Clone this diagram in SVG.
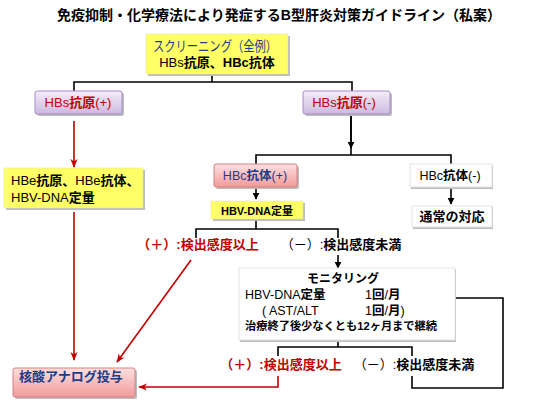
<svg xmlns="http://www.w3.org/2000/svg" width="550" height="413" viewBox="0 0 550 413">
<defs>
<linearGradient id="gPurple" x1="0" y1="0" x2="0" y2="1">
<stop offset="0" stop-color="#F3EDF8"/><stop offset="1" stop-color="#CDB9E0"/>
</linearGradient>
<linearGradient id="gPink" x1="0" y1="0" x2="0" y2="1">
<stop offset="0" stop-color="#FBE0E0"/><stop offset="1" stop-color="#F29A9A"/>
</linearGradient>
<marker id="ab" viewBox="0 0 10 10" refX="9" refY="5" markerWidth="7" markerHeight="7" markerUnits="userSpaceOnUse" orient="auto">
<path d="M0,0 L10,5 L0,10 Z" fill="#000"/>
</marker>
<marker id="ar" viewBox="0 0 10 10" refX="9" refY="5" markerWidth="9" markerHeight="9" markerUnits="userSpaceOnUse" orient="auto">
<path d="M0,1 L10,5 L0,9 L3,5 Z" fill="#C00000"/>
</marker>
</defs>
<style>
text{font-family:"Liberation Sans","Noto Sans CJK JP",sans-serif;}
.t{font-size:14px;font-weight:bold;fill:#000;}
.n{font-size:12px;fill:#000;}
.b{font-weight:bold;}
.red{fill:#C00000;}
.blue{fill:#1F3C88;}
.sh{fill:#BDBDBD;}
.yel{fill:#FFFF66;stroke:#E0E0B0;stroke-width:0.5;}
.pur{fill:url(#gPurple);stroke:#A88CC8;stroke-width:1;}
.pnk{fill:url(#gPink);stroke:#D88080;stroke-width:1;}
.wht{fill:#FFFFFF;stroke:#E4E4E4;stroke-width:1;}
.lk{fill:none;stroke:#000;stroke-width:1.6;}
.lr{fill:none;stroke:#C00000;stroke-width:1.6;}
</style>

<text class="t" x="279" y="20" text-anchor="middle">免疫抑制・化学療法により発症するB型肝炎対策ガイドライン（私案）</text>

<g id="connectors">
<path class="lk" d="M212,74 V82 M74,91 V82 H352 V91"/>
<path class="lk" d="M351,114 V155"/>
<path class="lk" d="M351,114 V148" marker-end="url(#ab)"/>
<path class="lk" d="M256,164 V155 H451 V164"/>
<path class="lk" d="M256,187 V199" marker-end="url(#ab)"/>
<path class="lk" d="M451,187 V204" marker-end="url(#ab)"/>
<path class="lk" d="M256,219 V229 M196,238 V229 H338 V238"/>
<path class="lk" d="M338,255 V268" marker-end="url(#ab)"/>
<path class="lk" d="M338,340 V347 M278,356 V347 H412 V356"/>
<path class="lk" d="M412,376 V388 H503 V298 H449" marker-end="url(#ab)"/>
<path class="lr" d="M74,121 V167" marker-end="url(#ar)"/>
<path class="lr" d="M74,212 V360" marker-end="url(#ar)"/>
<path class="lr" d="M191,260 L117,362" marker-end="url(#ar)"/>
<path class="lr" d="M278,376 V387 H139" marker-end="url(#ar)"/>
</g>

<g id="screening">
<rect class="sh" x="148" y="36" width="142" height="40"/>
<rect class="yel" x="146" y="34" width="142" height="40"/>
<text class="n blue" x="215" y="51" text-anchor="middle" style="font-size:14px" textLength="124" lengthAdjust="spacingAndGlyphs">スクリーニング（全例）</text>
<text class="n" x="217" y="67" text-anchor="middle" style="font-size:13px">HBs<tspan class="b">抗原、HBc抗体</tspan></text>
</g>

<g id="hbs-pos">
<rect class="sh" x="37" y="93" width="87" height="23" rx="2"/>
<rect class="pur" x="35" y="91" width="87" height="23" rx="2"/>
<text class="n red" x="78" y="107" text-anchor="middle" style="font-size:13px">HBs<tspan class="b">抗原</tspan>(+)</text>
</g>

<g id="hbs-neg">
<rect class="sh" x="305" y="93" width="87" height="23" rx="2"/>
<rect class="pur" x="303" y="91" width="87" height="23" rx="2"/>
<text class="n red" x="344" y="107" text-anchor="middle" style="font-size:13px">HBs<tspan class="b">抗原</tspan>(-)</text>
</g>

<g id="hbe">
<rect class="sh" x="6" y="170" width="139" height="40"/>
<rect class="yel" x="4" y="168" width="139" height="40"/>
<text class="n" x="11" y="185" style="font-size:13px">HBe<tspan class="b">抗原、</tspan>HBe<tspan class="b">抗体、</tspan></text>
<text class="n" x="11" y="202" style="font-size:13px">HBV-DNA<tspan class="b">定量</tspan></text>
</g>

<g id="hbc-pos">
<rect class="sh" x="216" y="166" width="83" height="23" rx="2"/>
<rect class="pnk" x="214" y="164" width="83" height="23" rx="2"/>
<text class="n blue" x="255" y="180" text-anchor="middle" style="font-size:12.5px">HBc<tspan class="b">抗体</tspan>(+)</text>
</g>

<g id="hbc-neg">
<rect class="sh" x="411" y="165" width="82" height="24"/>
<rect class="wht" x="410" y="164" width="82" height="23"/>
<text class="n" x="450" y="180" text-anchor="middle" style="font-size:12.5px">HBc<tspan class="b">抗体</tspan>(-)</text>
</g>

<g id="hbv-dna">
<rect class="sh" x="213" y="203" width="92" height="18"/>
<rect class="yel" x="211" y="201" width="92" height="18"/>
<text class="n b" x="257" y="215" text-anchor="middle" style="font-size:11px">HBV-DNA定量</text>
</g>

<g id="tsujo">
<rect class="sh" x="413" y="207" width="80" height="22"/>
<rect class="wht" x="412" y="206" width="80" height="21"/>
<text class="n b" x="452" y="221" text-anchor="middle" style="font-size:13px">通常の対応</text>
</g>

<g id="label-pos1">
<text class="n b red" x="198" y="249" text-anchor="middle" style="font-size:13px">（＋）:検出感度以上</text>
</g>
<g id="label-neg1">
<text class="n" x="341" y="249" text-anchor="middle" style="font-size:13px">（－）:<tspan class="b">検出感度未満</tspan></text>
</g>

<g id="monitoring">
<rect class="sh" x="240" y="269" width="216" height="73"/>
<rect class="wht" x="239" y="268" width="216" height="72"/>
<text class="n b" x="343" y="283" text-anchor="middle">モニタリング</text>
<text class="n" x="245" y="299" style="font-size:12.5px">HBV-DNA<tspan class="b">定量</tspan></text>
<text class="n" x="365" y="299" style="font-size:12.5px">1<tspan class="b">回</tspan>/<tspan class="b">月</tspan></text>
<text class="n" x="262" y="315" style="font-size:12.5px">( AST/ALT</text>
<text class="n" x="365" y="315" style="font-size:12.5px">1<tspan class="b">回</tspan>/<tspan class="b">月</tspan>)</text>
<text class="n b" x="245" y="330" style="font-size:11px" textLength="192" lengthAdjust="spacingAndGlyphs">治療終了後少なくとも12ヶ月まで継続</text>
</g>

<g id="label-pos2">
<text class="n b red" x="281" y="369" text-anchor="middle" style="font-size:13px">（＋）:検出感度以上</text>
</g>
<g id="label-neg2">
<text class="n" x="414" y="369" text-anchor="middle" style="font-size:13px">（－）:<tspan class="b">検出感度未満</tspan></text>
</g>

<g id="nucleotide">
<rect class="sh" x="15" y="370" width="122" height="29" rx="2"/>
<rect class="pnk" x="13" y="368" width="122" height="29" rx="2"/>
<text class="n b blue" x="19" y="381" style="font-size:13px">核酸アナログ投与</text>
</g>
</svg>
